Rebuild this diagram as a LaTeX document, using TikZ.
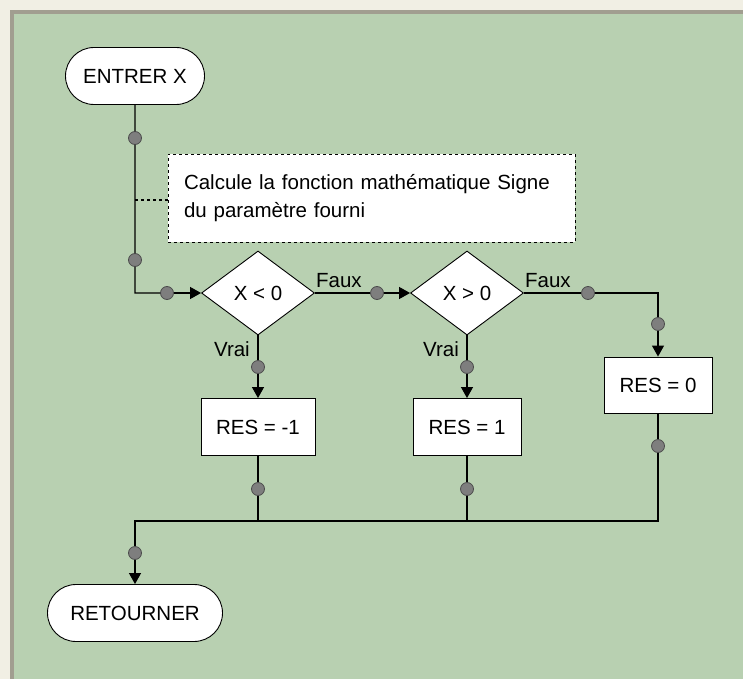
\documentclass[tikz,border=0pt]{standalone}
\usepackage{fontspec}
\setmainfont{Liberation Sans}
\usepackage{xcolor}
\definecolor{orgbg}{HTML}{B8D0B1}
\definecolor{orgpage}{HTML}{F1EFE4}
\definecolor{orgframe}{HTML}{A19E90}
\definecolor{orgdotfill}{HTML}{7E7E7E}
\usetikzlibrary{arrows.meta,positioning,shapes.geometric,shapes.misc}
\newcommand{\orgfont}{\fontsize{20.5}{28}\selectfont}
\tikzset{
  orgterm/.style={draw,line width=0.9pt,rounded rectangle,fill=white,minimum width=139pt,minimum height=57pt,inner sep=0pt,font=\orgfont},
  orgbox/.style={draw,line width=0.9pt,fill=white,minimum height=57pt,inner sep=0pt,font=\orgfont},
  orgtest/.style={draw,line width=0.9pt,diamond,fill=white,minimum width=113pt,minimum height=84pt,inner sep=0pt,font=\orgfont},
  orgnote/.style={draw,line width=0.9pt,dash pattern=on 3pt off 3pt,fill=white,text width=375pt,inner xsep=16pt,minimum height=88pt,align=left,font=\orgfont},
  orgdot/.style={circle,draw=black!70,line width=0.8pt,fill=orgdotfill,minimum size=13pt,inner sep=0pt},
  orgline/.style={line width=1.2pt},
  orgflow/.style={-{Triangle[length=11pt,width=12pt]},line width=1.2pt},
  orglabel/.style={font=\orgfont,inner sep=0pt},
}
\begin{document}
\begin{tikzpicture}[x=1pt,y=-1pt]
% fond et cadre
\fill[orgpage] (0,0) rectangle (743,679);
\fill[orgframe] (10,10) rectangle (743,679);
\fill[orgbg] (14,14) rectangle (743,679);

% blocs
\node[orgterm] (entrer) at (135,76) {ENTRER X};
\node[orgnote] (note) at (371.5,198) {Calcule la fonction mathématique Signe\\du paramètre fourni};
\node[orgtest] (neg) at (258,293) {X < 0};
\node[orgtest] (pos) at (467,293) {X > 0};
\node[orgbox,minimum width=114pt] (resneg) at (258,427) {RES = -1};
\node[orgbox,minimum width=108pt] (respos) at (467,427) {RES = 1};
\node[orgbox,minimum width=108pt,minimum height=56pt] (reszero) at (658,385) {RES = 0};
\node[orgterm,minimum width=175pt] (retour) at (135,613) {RETOURNER};

% points de liaison
\node[orgdot] (p1) at (135,138) {};
\node[orgdot] (p2) at (135,260) {};
\node[orgdot] (p3) at (167,293) {};
\node[orgdot] (p4) at (377,293) {};
\node[orgdot] (p5) at (588,293) {};
\node[orgdot] (p6) at (658,324) {};
\node[orgdot] (p7) at (658,446) {};
\node[orgdot] (p8) at (258,367) {};
\node[orgdot] (p9) at (258,489) {};
\node[orgdot] (p10) at (467,367) {};
\node[orgdot] (p11) at (467,489) {};
\node[orgdot] (p12) at (135,553) {};
\coordinate (cnote) at (135,200);
\coordinate (cin) at (135,293);
\coordinate (jl) at (135,521);
\coordinate (jr) at (658,521);

% liaisons
\draw[orgline] (entrer) -- (p1) -- (p2) -- (cin) -- (p3);
\draw[orgflow] (p3) -- (neg);
\draw[orgline,dash pattern=on 3pt off 3pt] (cnote) -- (cnote -| note.west);
\draw[orgline] (neg) -- (p4);
\draw[orgflow] (p4) -- (pos);
\draw[orgline] (pos) -- (p5) -| (p6);
\draw[orgflow] (p6) -- (reszero);
\draw[orgline] (neg) -- (p8);
\draw[orgflow] (p8) -- (resneg);
\draw[orgline] (pos) -- (p10);
\draw[orgflow] (p10) -- (respos);
\draw[orgline] (resneg) -- (p9) -- (p9 |- jr);
\draw[orgline] (respos) -- (p11) -- (p11 |- jr);
\draw[orgline] (reszero) -- (p7) -- (jr) -- (jl) -- (p12);
\draw[orgflow] (p12) -- (retour);

% etiquettes
\node[orglabel,anchor=south west] (faux1) at ([xshift=1pt,yshift=5pt]neg.east) {Faux};
\node[orglabel,anchor=south west] (faux2) at ([xshift=1pt,yshift=5pt]pos.east) {Faux};
\node[orglabel,anchor=north east] (vrai1) at ([xshift=-8pt,yshift=-6pt]neg.south) {Vrai};
\node[orglabel,anchor=north east] (vrai2) at ([xshift=-8pt,yshift=-6pt]pos.south) {Vrai};
\end{tikzpicture}
\end{document}
